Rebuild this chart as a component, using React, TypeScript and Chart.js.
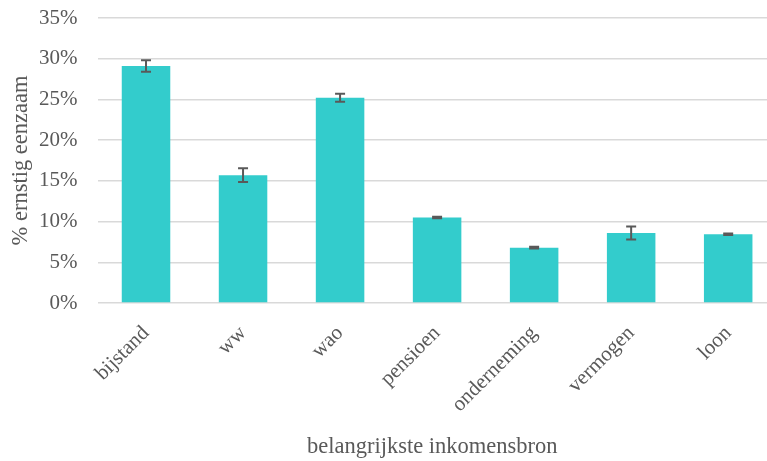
import React, { useEffect, useRef } from "react";
import { Chart, registerables } from "chart.js";

Chart.register(...registerables);

const categories = ["bijstand", "ww", "wao", "pensioen", "onderneming", "vermogen", "loon"];
const values = [29.1, 15.7, 25.2, 10.5, 6.8, 8.6, 8.45];
const errors = [0.7, 0.85, 0.5, 0.1, 0.1, 0.8, 0.1];
const yTicks = [0, 5, 10, 15, 20, 25, 30, 35];
const yTitle = "% ernstig eenzaam";
const xTitle = "belangrijkste inkomensbron";

const FONT = "'Liberation Serif', serif";
const TEXT = "#595959";

const errorBarPlugin = {
  id: "errorBars",
  afterDatasetsDraw(chart: any) {
    const meta = chart.getDatasetMeta(0);
    const y = chart.scales.y;
    const ctx = chart.ctx;
    ctx.save();
    ctx.strokeStyle = "#595959";
    ctx.lineWidth = 2;
    meta.data.forEach((bar: any, i: number) => {
      const x = bar.x;
      const top = y.getPixelForValue(values[i] + errors[i]);
      const bot = y.getPixelForValue(values[i] - errors[i]);
      ctx.beginPath();
      ctx.moveTo(x, top);
      ctx.lineTo(x, bot);
      ctx.moveTo(x - 5, top);
      ctx.lineTo(x + 5, top);
      ctx.moveTo(x - 5, bot);
      ctx.lineTo(x + 5, bot);
      ctx.stroke();
    });
    ctx.restore();
  },
};

export default function App() {
  const ref = useRef<HTMLCanvasElement>(null);
  useEffect(() => {
    if (!ref.current) return;
    const chart = new Chart(ref.current, {
      type: "bar",
      data: {
        datasets: [
          {
            data: values.map((v, i) => ({ x: i, y: v })),
            backgroundColor: "#33CCCC",
            borderWidth: 0,
            barPercentage: 0.5,
            categoryPercentage: 1,
          },
        ],
      },
      options: {
        responsive: false,
        animation: false,
        layout: { padding: { top: 18, left: 0, right: 0, bottom: 0 } },
        plugins: { legend: { display: false }, tooltip: { enabled: false } },
        scales: {
          x: {
            type: "linear",
            offset: false,
            min: -0.5,
            max: 6.4,
            grid: { display: false, offset: false },
            border: { display: false },
            afterBuildTicks: (axis: any) => {
              axis.ticks = categories.map((_, i) => ({ value: i }));
            },
            afterFit: (axis: any) => {
              axis.height = 158;
              axis.paddingLeft = 0;
              axis.paddingRight = 0;
            },
            ticks: {
              autoSkip: false,
              minRotation: 45,
              maxRotation: 45,
              padding: 10,
              color: TEXT,
              font: { family: FONT, size: 21 },
              callback: (v: any) => categories[Math.round(v)] ?? "",
            },
            title: {
              display: true,
              text: xTitle,
              color: TEXT,
              font: { family: FONT, size: 22.5 },
              padding: { top: 0, bottom: 0 },
            },
          },
          y: {
            min: 0,
            max: 35,
            grid: { color: "#d9d9d9", lineWidth: 1.5, drawTicks: false },
            border: { display: false },
            afterBuildTicks: (axis: any) => {
              axis.ticks = yTicks.map((v) => ({ value: v }));
            },
            afterFit: (axis: any) => {
              axis.width = 97.5;
              axis.paddingTop = 12;
              axis.paddingBottom = 12;
            },
            ticks: {
              padding: 20,
              color: TEXT,
              font: { family: FONT, size: 21 },
              callback: (v: any) => v + "%",
            },
            title: {
              display: true,
              text: yTitle,
              color: TEXT,
              font: { family: FONT, size: 22.5 },
              padding: { top: 8, bottom: 0 },
            },
          },
        },
      },
      plugins: [errorBarPlugin],
    });
    return () => chart.destroy();
  }, []);
  return (
    <div style={{ position: "fixed", left: 0, top: 0, width: 767, height: 461, background: "#fff" }}>
      <canvas ref={ref} width={767} height={461} style={{ display: "block" }} />
    </div>
  );
}
